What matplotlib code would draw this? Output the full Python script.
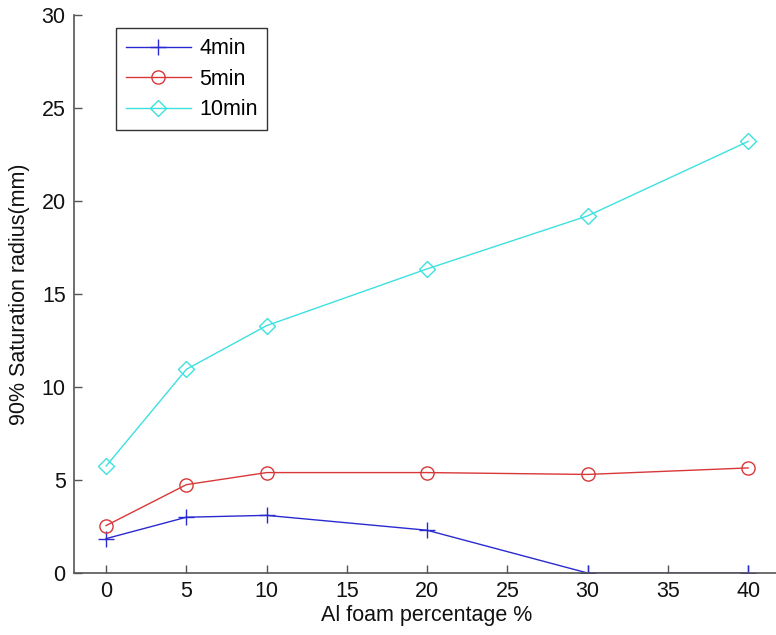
import numpy as np
import matplotlib.pyplot as plt

plt.rcParams['font.family'] = ['Liberation Sans', 'DejaVu Sans']

#%% Data
al_foam = [0, 5, 10, 20, 30, 40]
r_4min = [1.85, 3.0, 3.1, 2.3, 0.0, 0.0]
r_5min = [2.55, 4.75, 5.4, 5.4, 5.3, 5.65]
r_10min = [5.75, 10.95, 13.3, 16.35, 19.2, 23.2]

x_ticks = [0, 5, 10, 15, 20, 25, 30, 35, 40]
y_ticks = [0, 5, 10, 15, 20, 25, 30]

fs = 15.5

#%% Plot
fig = plt.figure(figsize=(7.76, 6.35), dpi=100)
ax = fig.add_axes([0.0954, 0.0976, 0.91, 0.8788])

ax.plot(al_foam, r_4min, color='#2a2ad0', marker='+', markersize=11,
        markeredgewidth=1.0, linewidth=1.0, label='4min')
ax.plot(al_foam, r_5min, color='#d83838', marker='o', markersize=9.5,
        markerfacecolor='none', markeredgewidth=1.0, linewidth=1.0, label='5min')
ax.plot(al_foam, r_10min, color='#3ee0e0', marker='D', markersize=8.5,
        markerfacecolor='none', markeredgewidth=1.0, linewidth=1.0, label='10min')

ax.set_xlim(-2, 42)
ax.set_ylim(0, 30)
ax.set_xticks(x_ticks)
ax.set_yticks(y_ticks)

for side in ['top', 'right']:
    ax.spines[side].set_visible(False)
for side in ['left', 'bottom']:
    ax.spines[side].set_color('#555555')
    ax.spines[side].set_linewidth(1.2)

ax.tick_params(direction='in', length=6, width=1, color='#555555',
               labelsize=fs, labelcolor='#111111', pad=6)

ax.set_xlabel('Al foam percentage %', fontsize=fs, color='#111111', labelpad=2)
ax.set_ylabel('90% Saturation radius(mm)', fontsize=fs, color='#111111', labelpad=8)

leg = ax.legend(loc='upper left', bbox_to_anchor=(0.06, 0.976), fontsize=fs,
                fancybox=False, edgecolor='#333333', framealpha=1,
                handlelength=3.0, borderpad=0.45, labelspacing=0.45,
                handletextpad=0.4, borderaxespad=0)
leg.get_frame().set_linewidth(1.0)

fig.savefig('out.png', dpi=100)
